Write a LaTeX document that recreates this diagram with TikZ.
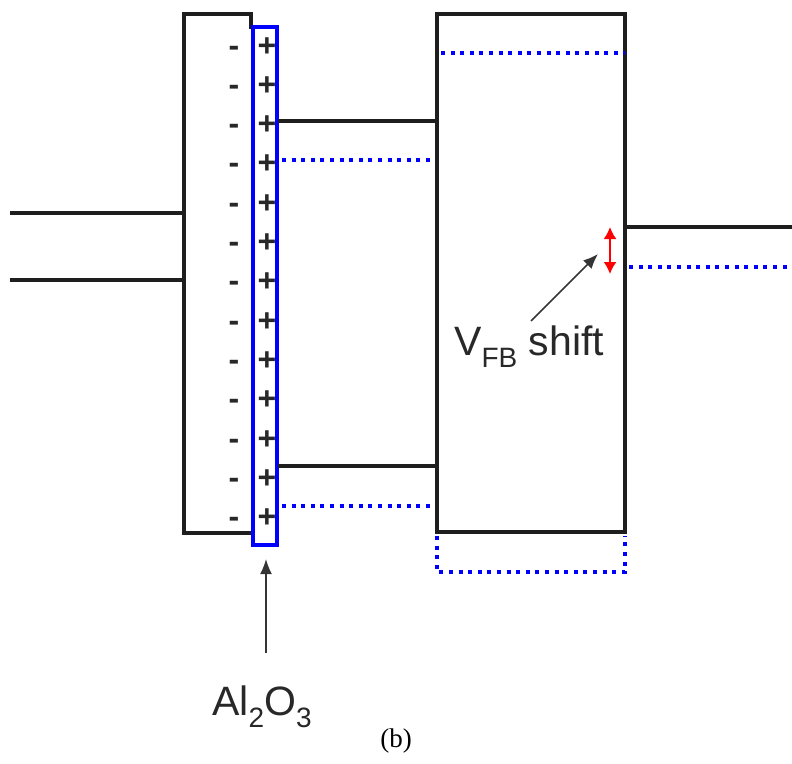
\documentclass[tikz,border=0pt]{standalone}
\usepackage{fontspec}
\setmainfont{Liberation Serif}
\newfontfamily\arial{Liberation Sans}
\usetikzlibrary{arrows.meta}
\definecolor{ink}{RGB}{30,30,30}
\definecolor{txt}{RGB}{40,40,40}
\definecolor{bblue}{RGB}{0,0,255}
\tikzset{
  band/.style={draw=ink, line width=3.5pt, line cap=rect},
  fermi/.style={draw=bblue, line width=3.5pt, dash pattern=on 4pt off 5.6pt},
  chg/.style={font=\arial\bfseries\fontsize{32}{32}\selectfont, text=txt, inner sep=0pt, anchor=base},
  lbl/.style={font=\arial\fontsize{41}{41}\selectfont, text=txt, inner sep=0pt},
  pointer/.style={draw=ink!90, line width=1.6pt, -{Latex[length=15pt,width=12pt]}},
}
\newcommand{\lowsub}[1]{\raisebox{-12pt}{\fontsize{28}{28}\selectfont #1}}
\begin{document}
\begin{tikzpicture}[x=1pt,y=-1pt]
\useasboundingbox (0,0) rectangle (792,763);
% left metal
\draw[band] (12,213) -- (184,213);
\draw[band] (12,280) -- (184,280);
% oxide box
\draw[band] (251,27) -- (251,14) -- (184,14) -- (184,533) -- (251,533);
% Al2O3 layer
\draw[draw=bblue, line width=4.5pt] (253,27) rectangle (277,545);
% charges
\foreach \i in {0,...,12}{
  \node[chg] (m\i) at (234,{56+39.33*\i}) {-};
  \node[chg] (p\i) at (267,{56+39.33*\i}) {+};
}
% middle semiconductor
\draw[band] (280,121) -- (437,121);
\draw[fermi] (282,160) -- (437,160);
\draw[band] (280,466) -- (437,466);
\draw[fermi] (282,506) -- (437,506);
% right big box
\draw[band] (437,14) rectangle (625,532);
\draw[fermi] (441,53) -- (625,53);
\draw[fermi] (437,536) -- (437,572) -- (625,572) -- (625,536);
% right metal
\draw[band] (625,227) -- (792,227);
\draw[fermi] (629,267) -- (792,267);
% VFB shift arrow
\coordinate (vt) at (610,227);
\coordinate (vb) at (610,274);
\draw[draw=red, line width=1.8pt, {Latex[length=12pt,width=13pt]}-{Latex[length=12pt,width=13pt]}] (vt) -- (vb);
\node[lbl, anchor=base west] (vfb) at (454,355) {V\lowsub{FB} shift};
\coordinate (vfbtip) at (598,254);
\draw[pointer] (531,321) -- (vfbtip);
% Al2O3 label
\node[lbl, anchor=base west] (al) at (212,715) {Al\lowsub{2}O\lowsub{3}};
\coordinate (altip) at (266,559);
\draw[pointer] (266,653) -- (altip);
% caption
\node[font=\fontsize{27}{27}\selectfont, inner sep=0pt] (cap) at (396,741) {(b)};
\end{tikzpicture}
\end{document}
